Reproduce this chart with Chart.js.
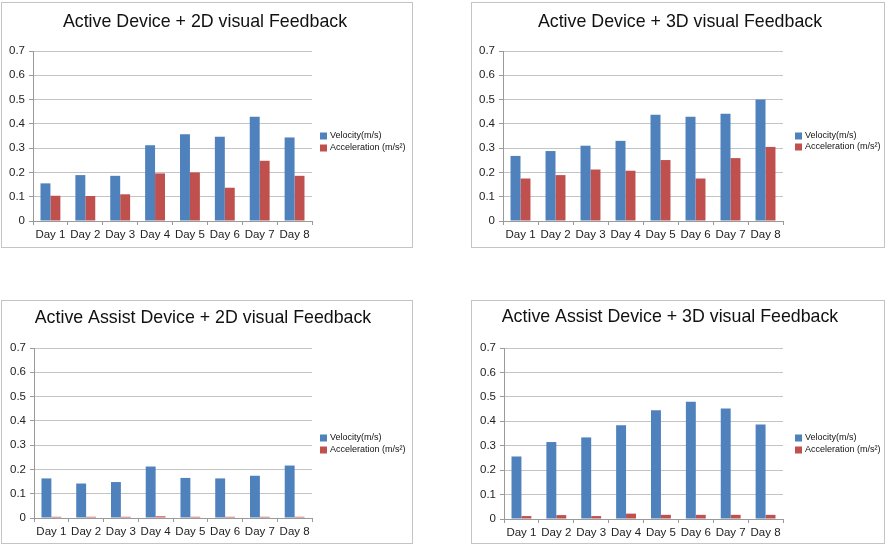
<!DOCTYPE html>
<html>
<head>
<meta charset="utf-8">
<script src="https://cdn.jsdelivr.net/npm/chart.js"></script>
<style>
  html, body { margin: 0; padding: 0; background: #ffffff; }
  body { width: 886px; height: 548px; position: relative; overflow: hidden; }
  .panel { position: absolute; border: 1px solid #c4c4c4; box-sizing: border-box; background: #fff; }
  .panel canvas { position: absolute; left: 0; top: 0; }
</style>
</head>
<body>
<div class="panel" id="p1"><canvas id="c1"></canvas></div>
<div class="panel" id="p2"><canvas id="c2"></canvas></div>
<div class="panel" id="p3"><canvas id="c3"></canvas></div>
<div class="panel" id="p4"><canvas id="c4"></canvas></div>
<script>
// ---- data ----
const days = ['Day 1', 'Day 2', 'Day 3', 'Day 4', 'Day 5', 'Day 6', 'Day 7', 'Day 8'];
const seriesNames = ['Velocity(m/s)', 'Acceleration (m/s\u00B2)'];
const panelTitles = [
  'Active Device + 2D visual Feedback',
  'Active Device + 3D visual Feedback',
  'Active Assist Device + 2D visual Feedback',
  'Active Assist Device + 3D visual Feedback'
];
const yMin = 0, yMax = 0.7, yStep = 0.1;

const activeDevice2DVelocity     = [0.155, 0.189, 0.186, 0.312, 0.357, 0.347, 0.429, 0.344];
const activeDevice2DAcceleration = [0.104, 0.103, 0.110, 0.196, 0.200, 0.137, 0.248, 0.186];

const activeDevice3DVelocity     = [0.268, 0.288, 0.310, 0.330, 0.438, 0.429, 0.442, 0.500];
const activeDevice3DAcceleration = [0.175, 0.189, 0.212, 0.207, 0.251, 0.175, 0.259, 0.305];

const activeAssist2DVelocity     = [0.163, 0.142, 0.148, 0.212, 0.165, 0.163, 0.174, 0.216];
const activeAssist2DAcceleration = [0.005, 0.005, 0.005, 0.007, 0.005, 0.005, 0.005, 0.005];

const activeAssist3DVelocity     = [0.256, 0.315, 0.334, 0.384, 0.445, 0.480, 0.452, 0.387];
const activeAssist3DAcceleration = [0.012, 0.016, 0.012, 0.022, 0.017, 0.017, 0.017, 0.017];

const seriesColors = ['#4f81bd', '#c0504d'];

// ---- layout (positions only) ----
const FONT = '"Liberation Sans", Arial, sans-serif';
const panels = [
  { id: 'p1', canvas: 'c1', left: 1,   top: 2,   w: 412, h: 246, plot: {l: 31, r: 310, t: 48, b: 218}, title: {x: 203, y: 19}, legend: {x: 318, y: 133, dy: 12},
    title_i: 0, vel: activeDevice2DVelocity, acc: activeDevice2DAcceleration },
  { id: 'p2', canvas: 'c2', left: 471, top: 2,   w: 414, h: 246, plot: {l: 31, r: 311, t: 48, b: 218}, title: {x: 208, y: 19}, legend: {x: 323, y: 133, dy: 11},
    title_i: 1, vel: activeDevice3DVelocity, acc: activeDevice3DAcceleration },
  { id: 'p3', canvas: 'c3', left: 1,   top: 300, w: 412, h: 244, plot: {l: 32, r: 310, t: 47, b: 217}, title: {x: 201, y: 17}, legend: {x: 318, y: 137, dy: 12},
    title_i: 2, vel: activeAssist2DVelocity, acc: activeAssist2DAcceleration },
  { id: 'p4', canvas: 'c4', left: 471, top: 300, w: 414, h: 244, plot: {l: 32, r: 311, t: 47, b: 218}, title: {x: 198, y: 16}, legend: {x: 323, y: 137, dy: 12},
    title_i: 3, vel: activeAssist3DVelocity, acc: activeAssist3DAcceleration }
];

const overlayPlugin = {
  id: 'overlay',
  afterDraw(chart, args, opts) {
    const ctx = chart.ctx;
    ctx.save();
    // title
    ctx.fillStyle = '#111';
    ctx.font = '17.8px ' + FONT;
    ctx.textAlign = 'center';
    ctx.textBaseline = 'middle';
    ctx.fillText(opts.title, opts.tx, opts.ty);
    // legend
    ctx.font = '9px ' + FONT;
    ctx.textAlign = 'left';
    chart.data.datasets.forEach((ds, i) => {
      const y = opts.ly + i * opts.ldy;
      ctx.fillStyle = ds.backgroundColor;
      ctx.fillRect(opts.lx, y - 3.5, 7, 7);
      ctx.fillStyle = '#111';
      ctx.fillText(ds.label, opts.lx + 10, y);
    });
    ctx.restore();
  }
};

panels.forEach(p => {
  const div = document.getElementById(p.id);
  div.style.left = p.left + 'px';
  div.style.top = p.top + 'px';
  div.style.width = p.w + 'px';
  div.style.height = p.h + 'px';
  const cw = p.w - 2, ch = p.h - 2;
  const cv = document.getElementById(p.canvas);
  cv.width = cw; cv.height = ch;
  cv.style.width = cw + 'px'; cv.style.height = ch + 'px';

  new Chart(cv, {
    type: 'bar',
    data: {
      labels: days,
      datasets: [
        { label: seriesNames[0], data: p.vel, backgroundColor: seriesColors[0], borderWidth: 0 },
        { label: seriesNames[1], data: p.acc, backgroundColor: seriesColors[1], borderWidth: 0 }
      ]
    },
    options: {
      responsive: false,
      devicePixelRatio: 1,
      animation: false,
      events: [],
      categoryPercentage: 0.57,
      barPercentage: 1.0,
      layout: { padding: { top: p.plot.t, right: cw - p.plot.r, bottom: 0, left: 0 } },
      plugins: {
        legend: { display: false },
        title: { display: false },
        tooltip: { enabled: false },
        overlay: { title: panelTitles[p.title_i], tx: p.title.x, ty: p.title.y, lx: p.legend.x, ly: p.legend.y, ldy: p.legend.dy }
      },
      scales: {
        x: {
          offset: true,
          grid: { display: true, drawOnChartArea: false, drawTicks: true, tickLength: 4, color: '#9a9a9a', offset: true },
          border: { display: true, color: '#9a9a9a', width: 1 },
          ticks: { font: { family: FONT, size: 11.5 }, color: '#222', padding: 3, maxRotation: 0, autoSkip: false },
          afterFit(s) { s.height = ch - p.plot.b; }
        },
        y: {
          min: yMin, max: yMax,
          grid: { color: '#c4c4c4', tickColor: '#9a9a9a', tickLength: 4, lineWidth: 1 },
          border: { display: true, color: '#9a9a9a', width: 1 },
          ticks: { stepSize: yStep, font: { family: FONT, size: 11.5 }, color: '#222', padding: 4 },
          afterFit(s) { s.width = p.plot.l; }
        }
      }
    },
    plugins: [overlayPlugin]
  });
});
</script>
</body>
</html>
